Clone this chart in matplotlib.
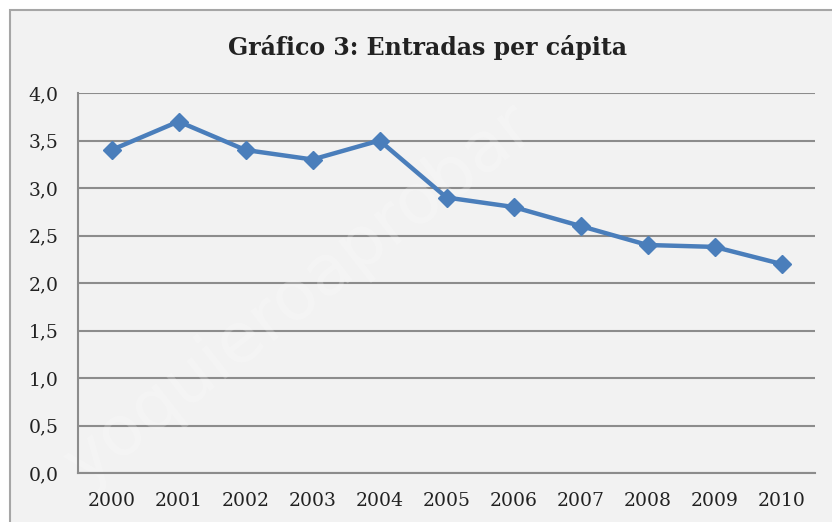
import matplotlib.pyplot as plt
from matplotlib.patches import Rectangle

years = ['2000', '2001', '2002', '2003', '2004', '2005', '2006', '2007', '2008', '2009', '2010']
entradas = [3.4, 3.7, 3.4, 3.3, 3.5, 2.9, 2.8, 2.6, 2.4, 2.38, 2.2]
y_ticks = [0.0, 0.5, 1.0, 1.5, 2.0, 2.5, 3.0, 3.5, 4.0]

W, H = 832, 522
fig = plt.figure(figsize=(W / 100, H / 100), dpi=100)
fig.patch.set_facecolor('white')

# marco del gráfico
fig.patches.append(Rectangle((10 / W, -0.05), 1.0, (H - 10) / H + 0.05,
                             transform=fig.transFigure, facecolor='#f2f2f2',
                             edgecolor='#a6a6a6', linewidth=1.5, zorder=-5))

ax = fig.add_axes([78 / W, (H - 473) / H, (815 - 78) / W, (473 - 93) / H])
ax.set_facecolor('#f2f2f2')

x = list(range(len(years)))
ax.plot(x, entradas, color='#4a7ebb', linewidth=3.2, marker='D',
        markersize=9.5, zorder=3)

ax.set_xlim(-0.5, len(years) - 0.5)
ax.set_ylim(0, 4.0)
ax.set_yticks(y_ticks)
ax.set_yticklabels([f'{v:.1f}'.replace('.', ',') for v in y_ticks])
ax.set_xticks(x)
ax.set_xticklabels(years)
ax.yaxis.grid(True, color='#8c8c8c', linewidth=1.5)
ax.set_axisbelow(True)
ax.tick_params(length=0, labelsize=13.5, colors='#222222')
ax.tick_params(axis='y', pad=14)
ax.tick_params(axis='x', pad=14)
for lbl in ax.get_xticklabels() + ax.get_yticklabels():
    lbl.set_family('DejaVu Serif')
for s in ['top', 'right']:
    ax.spines[s].set_visible(False)
for s in ['left', 'bottom']:
    ax.spines[s].set_color('#8c8c8c')
    ax.spines[s].set_linewidth(1.5)

fig.text(428 / W, 1 - 47 / H, 'Gráfico 3: Entradas per cápita', ha='center',
         va='center', fontsize=17, fontweight='bold', family='DejaVu Serif',
         color='#222222')

# marca de agua (debajo de la línea)
ax.text(300 / W, 1 - 295 / H, 'yoquieroaprobar', transform=fig.transFigure,
        ha='center', va='center', rotation=38, fontsize=50, color='white',
        alpha=0.22, zorder=2, clip_on=False)

fig.savefig('out.png', dpi=100)
